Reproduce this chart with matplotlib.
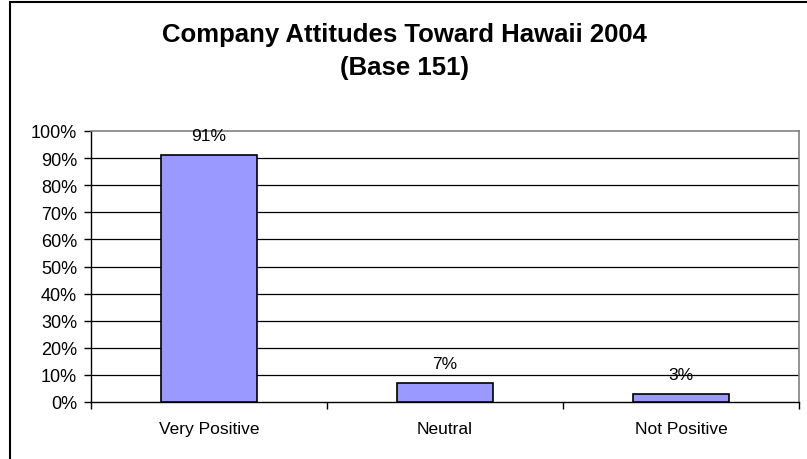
import matplotlib
matplotlib.use("Agg")
import matplotlib.pyplot as plt
from matplotlib.patches import Rectangle

categories = ["Very Positive", "Neutral", "Not Positive"]
values = [91, 7, 3]
value_labels = ["91%", "7%", "3%"]
yticks = [0, 10, 20, 30, 40, 50, 60, 70, 80, 90, 100]
ytick_labels = [f"{v}%" for v in yticks]
title_lines = ["Company Attitudes Toward Hawaii 2004", "(Base 151)"]

plt.rcParams['font.family'] = ['Liberation Sans', 'DejaVu Sans']

W, H = 807, 460
fig = plt.figure(figsize=(W / 100, H / 100), dpi=100)
fig.patch.set_facecolor("white")

# outer chart border (left and top visible)
fig.patches.append(Rectangle((10 / W, -0.1), 1.2, (H - 3) / H + 0.1, transform=fig.transFigure,
                             fill=False, edgecolor="black", linewidth=1.5, clip_on=False))

ax = fig.add_axes([91 / W, (H - 403) / H, 708 / W, 271 / H])
x = list(range(len(categories)))
ax.bar(x, values, width=0.405, color="#9999FF", edgecolor="black", linewidth=1.2, zorder=3)

ax.set_xlim(-0.5, len(categories) - 0.5)
ax.set_ylim(0, 100)
ax.set_yticks(yticks)
ax.set_yticklabels(ytick_labels)
for v in yticks[1:-1]:
    ax.axhline(v, color="black", linewidth=0.9, zorder=1)

ax.set_xticks(x)
ax.set_xticklabels(categories)
ax.set_xticks([i - 0.5 for i in range(len(categories) + 1)], minor=True)
ax.tick_params(axis="x", which="major", length=0, pad=14, labelsize=12.5)
ax.tick_params(axis="x", which="minor", length=5, width=1, direction="out")
ax.tick_params(axis="y", length=5, width=1, direction="out", pad=5, labelsize=13)

for s in ["left", "bottom"]:
    ax.spines[s].set_color("black")
    ax.spines[s].set_linewidth(1.0)
for s in ["top", "right"]:
    ax.spines[s].set_color("#808080")
    ax.spines[s].set_linewidth(1.2)

for xi, v, lab in zip(x, values, value_labels):
    ax.annotate(lab, (xi, v), xytext=(0, 14), textcoords="offset points",
                ha="center", va="center", fontsize=12.5, zorder=4)

for ypix, line in zip([35, 68], title_lines):
    fig.text(404 / W, 1 - ypix / H, line, ha="center", va="center", fontsize=18.5,
             fontweight="bold")

fig.savefig("out.png", dpi=100)
